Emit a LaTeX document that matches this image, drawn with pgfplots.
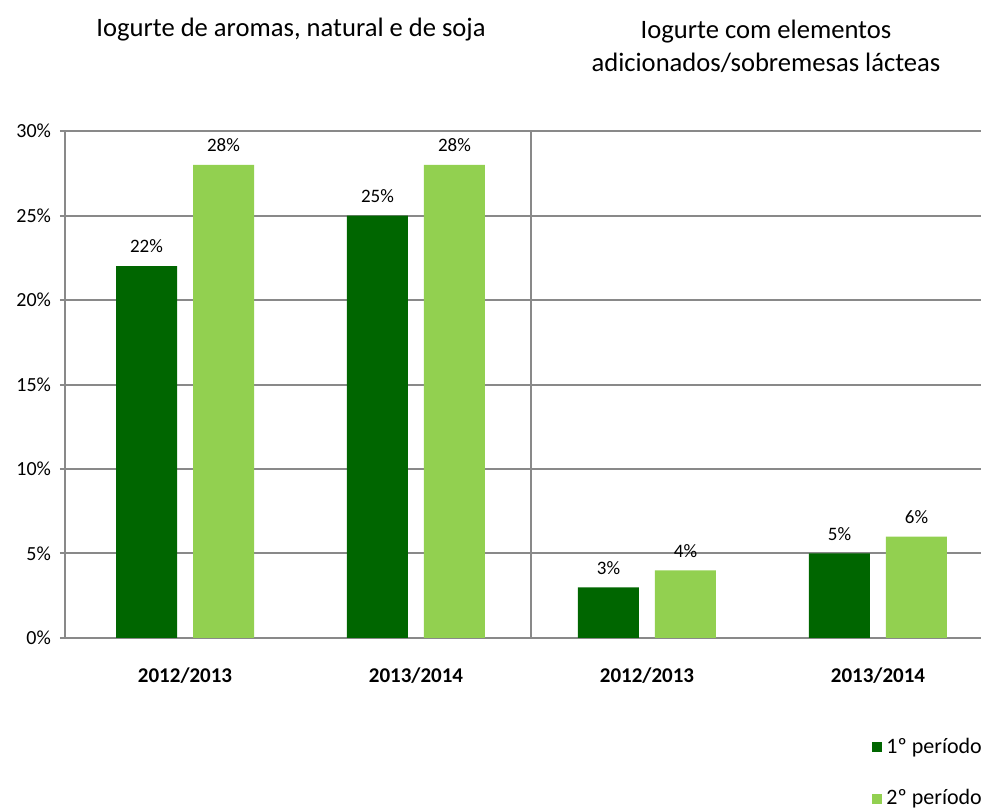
\documentclass[border=0pt]{standalone}
\usepackage{pgfplots}
\pgfplotsset{compat=1.18}
\usepackage{fontspec}
\setmainfont{Carlito}
\definecolor{darkg}{RGB}{0,102,0}
\definecolor{lightg}{RGB}{146,208,80}
\definecolor{gridc}{RGB}{137,137,137}
\begin{document}
\begin{tikzpicture}
\clip (0,0) rectangle (490.5pt,404.5pt);
\useasboundingbox (0,0) rectangle (490.5pt,404.5pt);
\begin{axis}[
  at={(32.5pt,85.5pt)}, anchor=south west,
  scale only axis, width=458pt, height=253.5pt,
  xmin=-0.5195, xmax=3.446, ymin=0, ymax=30,
  ybar, bar width=30.5pt, ybar=8pt,
  axis x line*=bottom, axis y line*=left,
  axis line style={gridc, line width=1pt},
  xtick={0,1,2,3},
  xticklabels={2012/2013,2013/2014,2012/2013,2013/2014},
  x tick style={draw=none},
  xticklabel style={font=\fontsize{10.5}{12}\selectfont\bfseries, yshift=-9pt},
  ytick={0,5,10,15,20,25,30},
  yticklabel={\pgfmathprintnumber{\tick}\%},
  yticklabel style={font=\fontsize{10}{12}\selectfont, xshift=-1pt},
  y tick style={gridc, line width=1pt},
  tick align=outside, major tick length=2.5pt,
  ymajorgrids, grid style={gridc, line width=1pt},
  extra x ticks={1.5}, extra x tick labels={},
  extra x tick style={grid=major, major tick length=0pt},
  /pgf/number format/assume math mode=true,
  nodes near coords={\pgfmathprintnumber{\pgfplotspointmeta}\%},
  nodes near coords style={font=\fontsize{9.5}{11}\selectfont, text=black, yshift=3pt},
  legend style={at={(0.8745,-0.181)}, anchor=north west, draw=none, fill=none,
    font=\fontsize{11}{13}\selectfont, row sep=12.5pt,
    /tikz/every even column/.append style={column sep=2pt}},
  legend cell align=left,
  legend image code/.code={\fill[#1] (0pt,-2.5pt) rectangle (5pt,2.5pt);},
]
\addplot[fill=darkg, draw=none] coordinates {(0,22) (1,25) (2,3) (3,5)};
\addplot[fill=lightg, draw=none] coordinates {(0,28) (1,28) (2,4) (3,6)};
\legend{1º período, 2º período}
\end{axis}
\node[font=\fontsize{13.3}{16.5}\selectfont] at (145.5pt,389.5pt) {Iogurte de aromas, natural e de soja};
\node[font=\fontsize{13.3}{16.5}\selectfont, align=center] at (383pt,381.5pt) {Iogurte com elementos\\adicionados/sobremesas lácteas};
\end{tikzpicture}
\end{document}
